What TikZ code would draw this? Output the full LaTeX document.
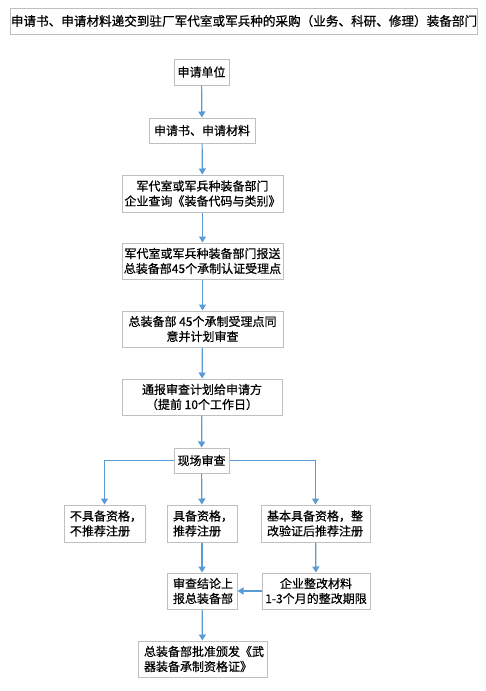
\documentclass[tikz,border=0pt]{standalone}
\usepackage{fontspec}
\setmainfont{Noto Sans CJK SC}[FakeBold=0.6]
\usetikzlibrary{arrows.meta}
\definecolor{boxgray}{RGB}{191,191,191}
\definecolor{arrowblue}{RGB}{91,155,213}
\begin{document}
\begin{tikzpicture}[x=1pt,y=-1pt,
  box/.style={draw=boxgray,line width=1pt,fill=white,inner sep=0pt,align=center,
    font=\fontsize{12}{15}\selectfont},
  lbox/.style={box,align=left},
  arr/.style={draw=arrowblue,line width=1.2pt,-{Triangle[length=6pt,width=7pt]}}]
\useasboundingbox[fill=white] (0,0) rectangle (486,691);
\node[box,minimum width=458pt,minimum height=26pt,font=\fontsize{12.6}{15}\selectfont] (top) at (244,21) {申请书、申请材料递交到驻厂军代室或军兵种的采购（业务、科研、修理）装备部门};
\node[box,minimum width=55pt,minimum height=26pt] (a) at (201.5,72) {申请单位};
\node[box,minimum width=106pt,minimum height=25pt] (b) at (202,130.5) {申请书、申请材料};
\node[box,minimum width=161pt,minimum height=37pt] (c) at (202.5,193.5) {军代室或军兵种装备部门\\企业查询《装备代码与类别》};
\node[box,minimum width=161pt,minimum height=36pt] (d) at (202.5,261) {军代室或军兵种装备部门报送\\总装备部45个承制认证受理点};
\node[box,minimum width=161pt,minimum height=36pt] (e) at (202.5,329) {总装备部 45个承制受理点同\\意并计划审查};
\node[box,minimum width=160pt,minimum height=36pt] (f) at (202,397) {通报审查计划给申请方\\（提前 10个工作日）};
\node[box,minimum width=55pt,minimum height=25pt] (g) at (201.5,460.5) {现场审查};
\node[lbox,minimum width=81pt,minimum height=37pt,text width=69pt] (h1) at (104.5,523.5) {不具备资格，\\不推荐注册};
\node[lbox,minimum width=70pt,minimum height=37pt,text width=58pt] (h2) at (202,523.5) {具备资格，\\推荐注册};
\node[lbox,minimum width=109pt,minimum height=37pt,text width=97pt] (h3) at (315.5,523.5) {基本具备资格，整\\改验证后推荐注册};
\node[lbox,minimum width=70pt,minimum height=36pt,text width=58pt] (i1) at (202,591) {审查结论上\\报总装备部};
\node[box,minimum width=108pt,minimum height=36pt] (i2) at (316,591) {企业整改材料\\1-3个月的整改期限};
\node[lbox,minimum width=129pt,minimum height=36pt,text width=117pt] (j) at (202.5,659) {总装备部批准颁发《武\\器装备承制资格证》};
\draw[arr] (a) -- (b);
\draw[arr] (b) -- (c);
\draw[arr] (c) -- (d);
\draw[arr] (d) -- (e);
\draw[arr] (e) -- (f);
\draw[arr] (f) -- (g);
\draw[arr] (g.west) -| (h1.north);
\draw[arr] (g) -- (h2);
\draw[arr] (g.east) -| (h3.north);
\draw[arr] (h2) -- (i1);
\draw[arr] (h3) -- (i2);
\draw[arr] (i2) -- (i1);
\draw[arr] (i1) -- (j);
\end{tikzpicture}
\end{document}
